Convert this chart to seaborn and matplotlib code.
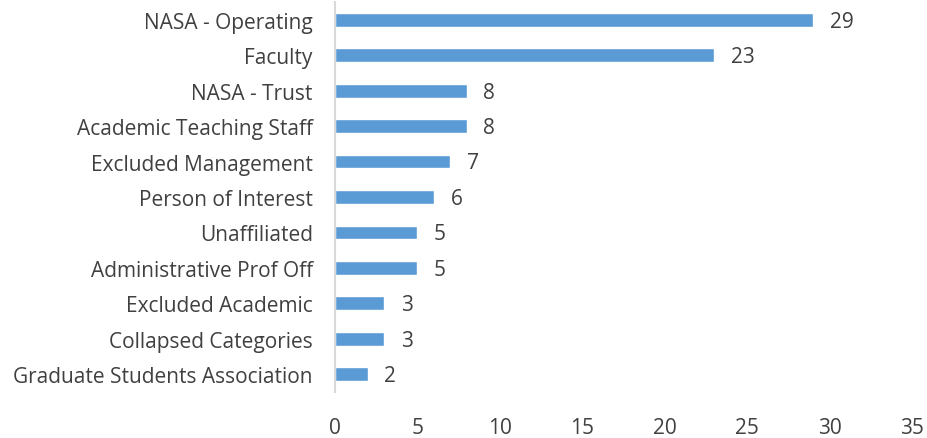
import matplotlib
matplotlib.use("Agg")
import matplotlib.pyplot as plt
import seaborn as sns
import pandas as pd

categories = [
    "NASA - Operating",
    "Faculty",
    "NASA - Trust",
    "Academic Teaching Staff",
    "Excluded Management",
    "Person of Interest",
    "Unaffiliated",
    "Administrative Prof Off",
    "Excluded Academic",
    "Collapsed Categories",
    "Graduate Students Association",
]
counts = [29, 23, 8, 8, 7, 6, 5, 5, 3, 3, 2]
x_ticks = [0, 5, 10, 15, 20, 25, 30, 35]

df = pd.DataFrame({"category": categories, "count": counts})

sns.set_theme(style="white")
plt.rcParams["font.family"] = ["Open Sans", "DejaVu Sans"]

text_color = "#404040"
bar_color = "#5B9BD5"

fig = plt.figure(figsize=(9.28, 4.39), dpi=100)
ax = fig.add_axes([335 / 928, 1 - 393 / 439, (912 - 335) / 928, 390 / 439])

sns.barplot(data=df, x="count", y="category", orient="h", color=bar_color,
            width=0.39, saturation=1, ax=ax)

for i, v in enumerate(counts):
    ax.text(v + 1.0, i + 0.04, str(v), va="center", ha="left", fontsize=15,
            color=text_color)

ax.set_xlim(0, 35)
ax.set_ylim(10.5, -0.5)
ax.set_xticks(x_ticks)
ax.set_xticklabels([str(t) for t in x_ticks])
ax.set_xlabel("")
ax.set_ylabel("")

for side in ["top", "right", "bottom"]:
    ax.spines[side].set_visible(False)
ax.spines["left"].set_color("#D9D9D9")
ax.spines["left"].set_linewidth(1.5)

ax.tick_params(axis="x", length=0, pad=18, labelsize=15, labelcolor=text_color)
ax.tick_params(axis="y", length=0, pad=16, labelsize=15, labelcolor=text_color)

fig.savefig("out.png", dpi=100)
